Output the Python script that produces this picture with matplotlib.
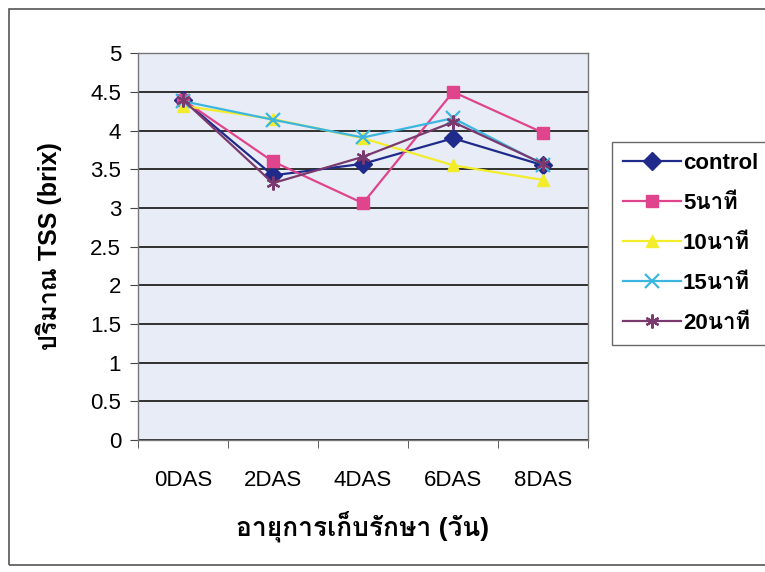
import numpy as np
import matplotlib
matplotlib.use('Agg')
import matplotlib.pyplot as plt
from matplotlib import font_manager
from matplotlib.ft2font import FT2Font
from matplotlib.patches import Rectangle

# ค่า TSS อ่านจากกราฟ
days = ['0DAS', '2DAS', '4DAS', '6DAS', '8DAS']
control = [4.40, 3.42, 3.57, 3.90, 3.55]
min5 = [4.40, 3.60, 3.06, 4.50, 3.97]
min10 = [4.32, 4.15, 3.90, 3.55, 3.36]
min15 = [4.38, 4.14, 3.91, 4.16, 3.56]
min20 = [4.40, 3.32, 3.66, 4.11, 3.57]

labels = ['control', '5นาที', '10นาที', '15นาที', '20นาที']
colors = ['#1f2a8a', '#e0448c', '#f2ec2a', '#3cb6e0', '#7a3a6e']
markers = ['D', 's', '^', 'x', (6, 2, 0)]


def find_thai_families():
    # look for any installed font that has Thai letters
    found = []
    for f in font_manager.fontManager.ttflist:
        try:
            cmap = FT2Font(f.fname).get_charmap()
        except Exception:
            continue
        if 0x0E19 in cmap and 0x0E32 in cmap and f.name not in found:
            found.append(f.name)
    return found


thai = find_thai_families()
plt.rcParams['font.family'] = ['Liberation Sans'] + thai + ['DejaVu Sans']

fig = plt.figure(figsize=(7.65, 5.72), dpi=100)
fig.patches.append(Rectangle((0.012, 0.012), 0.99, 0.972, transform=fig.transFigure,
                             fill=False, edgecolor='#555555', linewidth=1.2))
ax = fig.add_axes([0.180, 0.231, 0.589, 0.676])
ax.set_facecolor('#e8ecf6')

x = np.arange(len(days))
series = [control, min5, min10, min15, min20]
for vals, lab, c, m in zip(series, labels, colors, markers):
    ms = 9 if m in ('D', 's', '^') else 10
    ax.plot(x, vals, color=c, marker=m, markersize=ms, linewidth=1.6,
            markeredgewidth=1.6 if m in ('x', (6, 2, 0)) else 1.0, label=lab)

ax.set_xlim(-0.5, 4.5)
ax.set_ylim(0, 5)
ax.set_yticks(np.arange(0, 5.01, 0.5))
ax.set_yticklabels(['0', '0.5', '1', '1.5', '2', '2.5', '3', '3.5', '4', '4.5', '5'])
ax.yaxis.grid(True, color='#222222', linewidth=1.3)
ax.set_axisbelow(True)
ax.set_xticks(x)
ax.set_xticklabels(days)
ax.set_xticks(np.arange(-0.5, 4.6, 1), minor=True)
ax.tick_params(axis='x', which='major', length=0, pad=22, labelsize=16)
ax.tick_params(axis='x', which='minor', length=6, direction='out', color='#444444')
ax.tick_params(axis='y', length=6, direction='out', labelsize=16, pad=6, color='#444444')
for s in ax.spines.values():
    s.set_color('#777777')
    s.set_linewidth(1.0)

ax.set_xlabel('อายุการเก็บรักษา (วัน)', fontsize=19, fontweight='bold', labelpad=14)
ax.set_ylabel('ปริมาณ TSS (brix)', fontsize=18, fontweight='bold', labelpad=20)

leg = fig.legend(loc='upper left', bbox_to_anchor=(0.800, 0.752),
                 prop={'size': 16, 'weight': 'bold'},
                 frameon=True, fancybox=False, edgecolor='#444444', handlelength=2.6,
                 handletextpad=0.1, labelspacing=0.85, borderpad=0.5, borderaxespad=0)
leg.get_frame().set_linewidth(1.0)

plt.savefig('out.png', dpi=100)
